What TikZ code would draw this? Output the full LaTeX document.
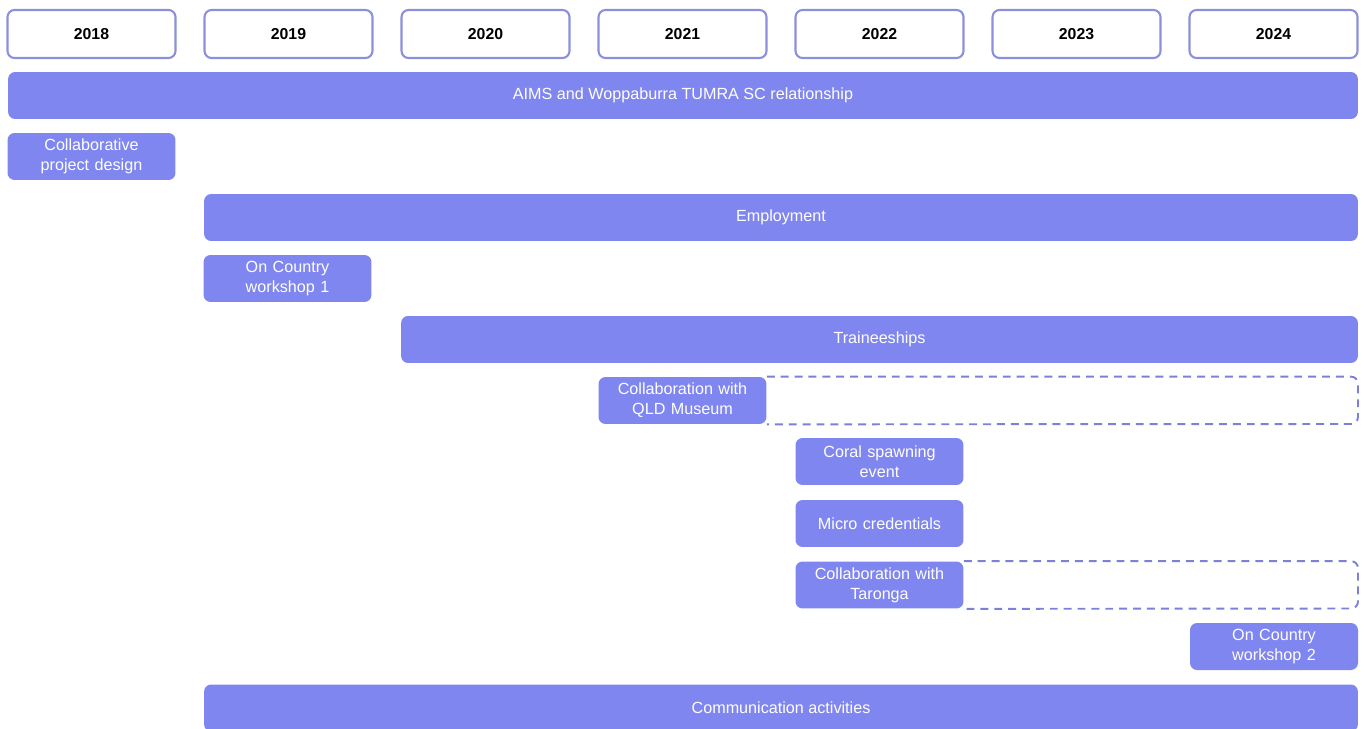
\documentclass[tikz,border=0pt]{standalone}
\usepackage{fontspec}
\setmainfont{Liberation Sans}
\usetikzlibrary{positioning}
\definecolor{barblue}{HTML}{7F86F0}
\definecolor{yearedge}{HTML}{8C90DC}
\definecolor{dashblue}{HTML}{7C80D6}
\tikzstyle{yearbox} = [draw=yearedge, line width=1.2pt, rounded corners=4pt, fill=white, minimum width=3.36cm, minimum height=0.96cm, font=\fontsize{9}{11}\selectfont\bfseries]
\tikzstyle{bar} = [fill=barblue, rounded corners=4pt, text=white, minimum height=0.94cm, inner sep=0pt, align=center, font=\fontsize{9.2}{11.3}\selectfont]
\tikzstyle{cellbox} = [bar, minimum width=3.36cm, text width=3.3cm]
\tikzstyle{openend} = [draw=dashblue, line width=1.1pt, dash pattern=on 4.5pt off 3.4pt, rounded corners=4pt]

\begin{document}
\begin{tikzpicture}[x=0.02cm, y=-0.02cm]
  \useasboundingbox (0,0) rectangle (1365,729);
  % year header
  \foreach \yr [count=\i from 0] in {2018,...,2024}
    \node[yearbox] (y\yr) at (91.5+197*\i,34) {\yr};
  % activities
  \node[bar, minimum width=27cm] (aims) at (683,95.5) {AIMS and Woppaburra TUMRA SC relationship};
  \node[cellbox] (design) at (91.5,156.5) {Collaborative\\project design};
  \node[bar, minimum width=23.08cm] (employ) at (781,217.5) {Employment};
  \node[cellbox] (ocw1) at (287.5,278.5) {On Country\\workshop 1};
  \node[bar, minimum width=19.14cm] (trainee) at (879.5,339.5) {Traineeships};
  \node[cellbox] (qldm) at (682.5,400.5) {Collaboration with\\QLD Museum};
  \node[cellbox] (spawn) at (879.5,461.5) {Coral spawning\\event};
  \node[cellbox] (micro) at (879.5,523.5) {Micro credentials};
  \node[cellbox] (taronga) at (879.5,585) {Collaboration with\\Taronga};
  \node[cellbox] (ocw2) at (1274,646.5) {On Country\\workshop 2};
  \node[bar, minimum width=23.08cm] (comms) at (781,708) {Communication activities};
  % ongoing collaborations
  \coordinate (qldend) at (1358,424);
  \draw[openend] (qldm.north east) -| (qldend) -- (qldm.south east);
  \coordinate (tarend) at (1358,608.5);
  \draw[openend] (taronga.north east) -| (tarend) -- (taronga.south east);
\end{tikzpicture}
\end{document}
